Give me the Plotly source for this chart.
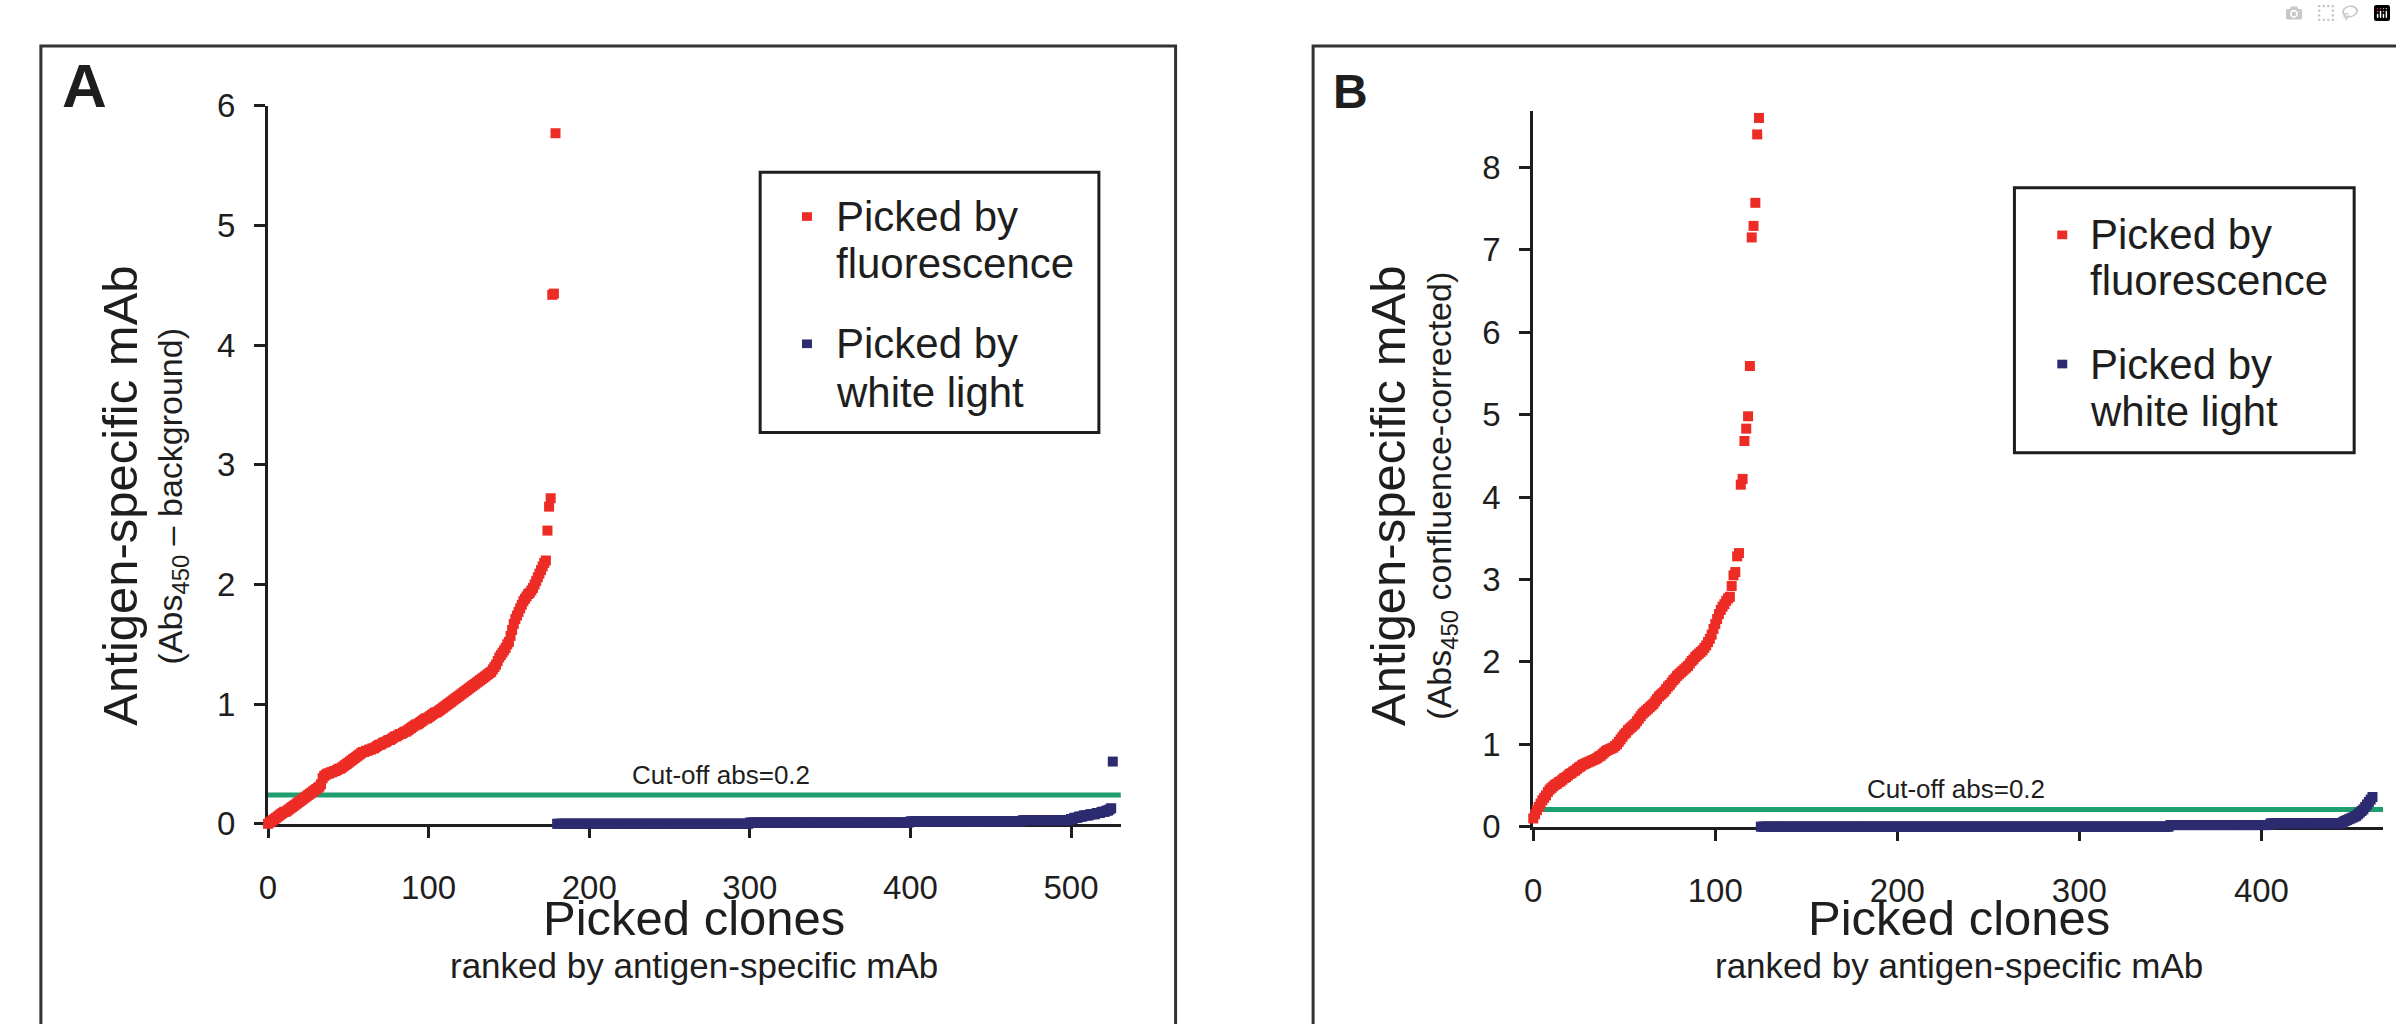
import plotly.graph_objects as go

W, H = 2396, 1024
FONT = "Liberation Sans, Arial, sans-serif"

# ---------------- data ----------------
# Panel A: Abs450 - background, clones ranked by antigen-specific mAb
a_fluor = [
    0.00, 0.01, 0.02, 0.03, 0.04, 0.05, 0.06, 0.07, 0.08, 0.09,
    0.10, 0.10, 0.11, 0.12, 0.13, 0.14, 0.15, 0.16, 0.17, 0.18,
    0.19, 0.20, 0.21, 0.22, 0.23, 0.24, 0.25, 0.26, 0.27, 0.28,
    0.29, 0.30, 0.31, 0.33, 0.38, 0.40, 0.41, 0.42, 0.42, 0.43,
    0.43, 0.44, 0.44, 0.45, 0.46, 0.46, 0.47, 0.48, 0.49, 0.50,
    0.51, 0.52, 0.53, 0.54, 0.55, 0.56, 0.57, 0.58, 0.59, 0.60,
    0.60, 0.61, 0.61, 0.62, 0.62, 0.63, 0.63, 0.64, 0.65, 0.66,
    0.66, 0.67, 0.68, 0.68, 0.69, 0.70, 0.70, 0.71, 0.72, 0.73,
    0.73, 0.74, 0.75, 0.75, 0.76, 0.77, 0.77, 0.78, 0.79, 0.80,
    0.81, 0.82, 0.83, 0.83, 0.84, 0.85, 0.86, 0.87, 0.88, 0.88,
    0.89, 0.90, 0.91, 0.92, 0.93, 0.93, 0.94, 0.95, 0.96, 0.97,
    0.98, 0.99, 1.00, 1.01, 1.02, 1.03, 1.04, 1.05, 1.06, 1.07,
    1.08, 1.09, 1.10, 1.11, 1.12, 1.13, 1.14, 1.15, 1.16, 1.17,
    1.18, 1.19, 1.20, 1.21, 1.22, 1.23, 1.24, 1.25, 1.26, 1.27,
    1.29, 1.31, 1.33, 1.36, 1.39, 1.41, 1.43, 1.45, 1.47, 1.50,
    1.52, 1.57, 1.62, 1.67, 1.71, 1.74, 1.77, 1.80, 1.83, 1.86,
    1.88, 1.90, 1.92, 1.93, 1.95, 1.97, 2.00, 2.03, 2.06, 2.09,
    2.12, 2.15, 2.18, 2.20, 2.45, 2.65, 2.72, 4.42, 4.43, 5.77,
]
a_white = [
    0, 0, 0, 0, 0, 0, 0, 0, 0, 0, 0, 0, 0, 0, 0, 0, 0, 0, 0, 0,
    0, 0, 0, 0, 0, 0, 0, 0, 0, 0, 0, 0, 0, 0, 0, 0, 0, 0, 0, 0,
    0, 0, 0, 0, 0, 0, 0, 0, 0, 0, 0, 0, 0, 0, 0, 0, 0, 0, 0, 0,
    0, 0, 0, 0, 0, 0, 0, 0, 0, 0, 0, 0, 0, 0, 0, 0, 0, 0, 0, 0,
    0, 0, 0, 0, 0, 0, 0, 0, 0, 0, 0, 0, 0, 0, 0, 0, 0, 0, 0, 0,
    0, 0, 0, 0, 0, 0, 0, 0, 0, 0, 0, 0, 0, 0, 0, 0, 0, 0, 0, 0,
    0.01, 0.01, 0.01, 0.01, 0.01, 0.01, 0.01, 0.01, 0.01, 0.01, 0.01, 0.01, 0.01, 0.01, 0.01, 0.01, 0.01, 0.01, 0.01, 0.01,
    0.01, 0.01, 0.01, 0.01, 0.01, 0.01, 0.01, 0.01, 0.01, 0.01, 0.01, 0.01, 0.01, 0.01, 0.01, 0.01, 0.01, 0.01, 0.01, 0.01,
    0.01, 0.01, 0.01, 0.01, 0.01, 0.01, 0.01, 0.01, 0.01, 0.01, 0.01, 0.01, 0.01, 0.01, 0.01, 0.01, 0.01, 0.01, 0.01, 0.01,
    0.01, 0.01, 0.01, 0.01, 0.01, 0.01, 0.01, 0.01, 0.01, 0.01, 0.01, 0.01, 0.01, 0.01, 0.01, 0.01, 0.01, 0.01, 0.01, 0.01,
    0.01, 0.01, 0.01, 0.01, 0.01, 0.01, 0.01, 0.01, 0.01, 0.01, 0.01, 0.01, 0.01, 0.01, 0.01, 0.01, 0.01, 0.01, 0.01, 0.01,
    0.02, 0.02, 0.02, 0.02, 0.02, 0.02, 0.02, 0.02, 0.02, 0.02, 0.02, 0.02, 0.02, 0.02, 0.02, 0.02, 0.02, 0.02, 0.02, 0.02,
    0.02, 0.02, 0.02, 0.02, 0.02, 0.02, 0.02, 0.02, 0.02, 0.02, 0.02, 0.02, 0.02, 0.02, 0.02, 0.02, 0.02, 0.02, 0.02, 0.02,
    0.02, 0.02, 0.02, 0.02, 0.02, 0.02, 0.02, 0.02, 0.02, 0.02, 0.02, 0.02, 0.02, 0.02, 0.02, 0.02, 0.02, 0.02, 0.02, 0.02,
    0.02, 0.02, 0.02, 0.02, 0.02, 0.02, 0.02, 0.02, 0.02, 0.02,
    0.03, 0.03, 0.03, 0.03, 0.03, 0.03, 0.03, 0.03, 0.03, 0.03, 0.03, 0.03, 0.03, 0.03, 0.03, 0.03, 0.03, 0.03, 0.03, 0.03,
    0.03, 0.03, 0.03, 0.03, 0.03, 0.03, 0.03, 0.03, 0.03, 0.03,
    0.04, 0.04, 0.05, 0.05, 0.05, 0.06, 0.06, 0.06, 0.07, 0.07,
    0.07, 0.07, 0.08, 0.08, 0.08, 0.08, 0.09, 0.09, 0.09, 0.10,
    0.10, 0.10, 0.11, 0.11, 0.12, 0.13, 0.52,
]

# Panel B: Abs450 confluence-corrected
b_fluor = [
    0.10, 0.15, 0.20, 0.24, 0.28, 0.32, 0.35, 0.38, 0.42, 0.45,
    0.47, 0.49, 0.51, 0.52, 0.54, 0.55, 0.57, 0.59, 0.60, 0.62,
    0.64, 0.65, 0.67, 0.68, 0.70, 0.72, 0.73, 0.75, 0.76, 0.77,
    0.78, 0.79, 0.80, 0.81, 0.82, 0.83, 0.85, 0.86, 0.88, 0.90,
    0.92, 0.93, 0.94, 0.95, 0.96, 0.98, 1.00, 1.03, 1.06, 1.09,
    1.12, 1.14, 1.17, 1.19, 1.21, 1.23, 1.25, 1.28, 1.31, 1.34,
    1.37, 1.39, 1.41, 1.43, 1.45, 1.47, 1.49, 1.52, 1.55, 1.58,
    1.60, 1.62, 1.64, 1.67, 1.70, 1.72, 1.75, 1.78, 1.80, 1.83,
    1.85, 1.87, 1.89, 1.91, 1.93, 1.95, 1.98, 2.01, 2.03, 2.06,
    2.08, 2.10, 2.12, 2.14, 2.17, 2.20, 2.24, 2.28, 2.33, 2.40,
    2.46, 2.52, 2.58, 2.63, 2.67, 2.70, 2.74, 2.77, 2.79, 2.92,
    3.05, 3.09, 3.28, 3.32, 4.15, 4.22, 4.68, 4.83, 4.98, 5.59,
    7.15, 7.29, 7.57, 8.40, 8.60,
]
b_white = [
    0, 0, 0, 0, 0, 0, 0, 0, 0, 0, 0, 0, 0, 0, 0, 0, 0, 0, 0, 0,
    0, 0, 0, 0, 0, 0, 0, 0, 0, 0, 0, 0, 0, 0, 0, 0, 0, 0, 0, 0,
    0, 0, 0, 0, 0, 0, 0, 0, 0, 0, 0, 0, 0, 0, 0, 0, 0, 0, 0, 0,
    0, 0, 0, 0, 0, 0, 0, 0, 0, 0, 0, 0, 0, 0, 0, 0, 0, 0, 0, 0,
    0, 0, 0, 0, 0, 0, 0, 0, 0, 0, 0, 0, 0, 0, 0, 0, 0, 0, 0, 0,
    0, 0, 0, 0, 0, 0, 0, 0, 0, 0, 0, 0, 0, 0, 0, 0, 0, 0, 0, 0,
    0, 0, 0, 0, 0, 0, 0, 0, 0, 0, 0, 0, 0, 0, 0, 0, 0, 0, 0, 0,
    0, 0, 0, 0, 0, 0, 0, 0, 0, 0, 0, 0, 0, 0, 0, 0, 0, 0, 0, 0,
    0, 0, 0, 0, 0, 0, 0, 0, 0, 0, 0, 0, 0, 0, 0, 0, 0, 0, 0, 0,
    0, 0, 0, 0, 0, 0, 0, 0, 0, 0, 0, 0, 0, 0, 0, 0, 0, 0, 0, 0,
    0, 0, 0, 0, 0, 0, 0, 0, 0, 0, 0, 0, 0, 0, 0, 0, 0, 0, 0, 0,
    0, 0, 0, 0, 0,
    0.02, 0.02, 0.02, 0.02, 0.02, 0.02, 0.02, 0.02, 0.02, 0.02, 0.02, 0.02, 0.02, 0.02, 0.02, 0.02, 0.02, 0.02, 0.02, 0.02,
    0.02, 0.02, 0.02, 0.02, 0.02, 0.02, 0.02, 0.02, 0.02, 0.02, 0.02, 0.02, 0.02, 0.02, 0.02, 0.02, 0.02, 0.02, 0.02, 0.02,
    0.02, 0.02, 0.02, 0.02, 0.02, 0.02, 0.02, 0.02, 0.02, 0.02, 0.02, 0.02, 0.02, 0.02, 0.02,
    0.04, 0.04, 0.04, 0.04, 0.04, 0.04, 0.04, 0.04, 0.04, 0.04, 0.04, 0.04, 0.04, 0.04, 0.04, 0.04, 0.04, 0.04, 0.04, 0.04,
    0.04, 0.04, 0.04, 0.04, 0.04, 0.04, 0.04, 0.04, 0.04, 0.04, 0.04, 0.04, 0.04, 0.04, 0.04, 0.04, 0.04, 0.04, 0.04, 0.04,
    0.06, 0.07, 0.08, 0.09, 0.10, 0.11, 0.12, 0.13,
    0.15, 0.17, 0.19, 0.21, 0.24, 0.27, 0.30, 0.33, 0.36,
]

cutoff_label = "Cut-off abs=0.2"
cutoff_a = 0.24
cutoff_b = 0.21

xticks_a = [0, 100, 200, 300, 400, 500]
yticks_a = [0, 1, 2, 3, 4, 5, 6]
xticks_b = [0, 100, 200, 300, 400]
yticks_b = [0, 1, 2, 3, 4, 5, 6, 7, 8]

legend_lines_fluor = ["Picked by", "fluorescence"]
legend_lines_white = ["Picked by", "white light"]
x_title = "Picked clones"
x_sub = "ranked by antigen-specific mAb"
y_title = "Antigen-specific mAb"
y_sub_a = "(Abs<sub>450</sub> \u2013 background)"
y_sub_b = "(Abs<sub>450</sub> confluence-corrected)"

RED = "#ec2c25"
NAVY = "#2d2b70"
GREEN = "#1f9e6f"
INK = "#1e1e1e"


def px(x):
    return x / W


def py(y):
    return 1 - y / H


rank_a_f = list(range(len(a_fluor)))
rank_a_w = list(range(len(a_fluor), len(a_fluor) + len(a_white)))
rank_b_f = list(range(len(b_fluor)))
rank_b_w = list(range(len(b_fluor), len(b_fluor) + len(b_white)))

fig = go.Figure()
mk = dict(symbol="square", size=10, line=dict(width=0))

fig.add_trace(go.Scatter(x=rank_a_f, y=a_fluor, mode="markers", name="Picked by fluorescence",
                         marker=dict(color=RED, **mk), xaxis="x", yaxis="y", cliponaxis=False))
fig.add_trace(go.Scatter(x=rank_a_w, y=a_white, mode="markers", name="Picked by white light",
                         marker=dict(color=NAVY, **mk), xaxis="x", yaxis="y", cliponaxis=False))
fig.add_trace(go.Scatter(x=rank_b_f, y=b_fluor, mode="markers", name="Picked by fluorescence",
                         marker=dict(color=RED, **mk), xaxis="x2", yaxis="y2", cliponaxis=False))
fig.add_trace(go.Scatter(x=rank_b_w, y=b_white, mode="markers", name="Picked by white light",
                         marker=dict(color=NAVY, **mk), xaxis="x2", yaxis="y2", cliponaxis=False))

axis_common = dict(
    showline=True, linecolor=INK, linewidth=3,
    ticks="outside", ticklen=11, tickwidth=3, tickcolor=INK,
    showgrid=False, zeroline=False, layer="below traces",
    tickfont=dict(size=33, family=FONT, color=INK), fixedrange=True,
)

fig.update_layout(
    xaxis=dict(domain=[px(260), px(1116)], range=[0, 531], tickvals=xticks_a,
               anchor="y", ticklabelstandoff=22, **axis_common),
    yaxis=dict(domain=[py(836), py(91)], range=[0, 6], tickvals=yticks_a,
               anchor="x", ticklabelstandoff=12, **axis_common),
    xaxis2=dict(domain=[px(1530), px(2383)], range=[0, 466.8], tickvals=xticks_b,
                anchor="y2", ticklabelstandoff=22, **axis_common),
    yaxis2=dict(domain=[py(839), py(96)], range=[0, 8.69], tickvals=yticks_b,
                anchor="x2", ticklabelstandoff=12, **axis_common),
)

shapes = [
    # panel frames
    dict(type="rect", xref="paper", yref="paper", x0=px(32), x1=px(1171), y0=-0.1, y1=py(29),
         line=dict(color="#333333", width=3)),
    dict(type="rect", xref="paper", yref="paper", x0=px(1309), x1=1.1, y0=-0.1, y1=py(29),
         line=dict(color="#333333", width=3)),
    # cut-off lines
    dict(type="line", xref="x domain", yref="y", x0=0, x1=1, y0=cutoff_a, y1=cutoff_a,
         line=dict(color=GREEN, width=5), layer="below"),
    dict(type="line", xref="x2 domain", yref="y2", x0=0, x1=1, y0=cutoff_b, y1=cutoff_b,
         line=dict(color=GREEN, width=5), layer="below"),
]
annotations = []


def txt(text, x, y, size, angle=0, bold=False, xref="paper", yref="paper", color=INK, **kw):
    d = dict(text=f"<b>{text}</b>" if bold else text, x=x, y=y, xref=xref, yref=yref,
             showarrow=False, textangle=angle,
             font=dict(size=size, family=FONT, color=color))
    d.setdefault("xanchor", "center")
    d.setdefault("yanchor", "middle")
    d.update(kw)
    annotations.append(d)


def legend_box(left, top, right, bottom, text_x, mark_x, rows):
    shapes.append(dict(type="rect", xref="paper", yref="paper",
                       x0=px(left), x1=px(right), y0=py(bottom), y1=py(top),
                       line=dict(color=INK, width=3), fillcolor="white"))
    for color, lines, ys in rows:
        shapes.append(dict(type="rect", xref="paper", yref="paper",
                           x0=px(mark_x - 5), x1=px(mark_x + 5),
                           y0=py(ys[0] + 4.5), y1=py(ys[0] - 4.5),
                           line=dict(width=0), fillcolor=color))
        for line, ly in zip(lines, ys):
            txt(line, px(text_x), py(ly), 42, xanchor="left")


legend_box(754, 160, 1094, 430, 828, 801,
           [(RED, legend_lines_fluor, (206, 255)), (NAVY, legend_lines_white, (338, 389))])
legend_box(2013, 176, 2354, 451, 2087, 2061,
           [(RED, legend_lines_fluor, (225, 272)), (NAVY, legend_lines_white, (359, 408))])

# panel letters
txt("A", px(76), py(70), 62, bold=True)
txt("B", px(1347), py(76), 48, bold=True)

# axis titles panel A
txt(y_title, px(111), py(496), 49, angle=-90)
txt(y_sub_a, px(164), py(496), 34, angle=-90)
txt(x_title, px(688), py(934), 49)
txt(x_sub, px(688), py(983), 35)

# axis titles panel B
txt(y_title, px(1384), py(496), 49, angle=-90)
txt(y_sub_b, px(1437), py(496), 34, angle=-90)
txt(x_title, px(1957), py(934), 49)
txt(x_sub, px(1957), py(983), 35)

# cut-off labels
txt(cutoff_label, 282, cutoff_a, 26, xref="x", yref="y", yanchor="bottom", yshift=3)
txt(cutoff_label, 232, cutoff_b, 26, xref="x2", yref="y2", yanchor="bottom", yshift=3)

fig.update_layout(
    width=W, height=H,
    margin=dict(l=0, r=0, t=0, b=0, pad=0),
    paper_bgcolor="white", plot_bgcolor="rgba(0,0,0,0)",
    shapes=shapes, annotations=annotations,
    font=dict(family=FONT, color=INK),
    showlegend=False,
)

fig.write_html(
    "out.html",
    post_script="document.body.style.margin='0';document.body.style.overflow='hidden';",
)
